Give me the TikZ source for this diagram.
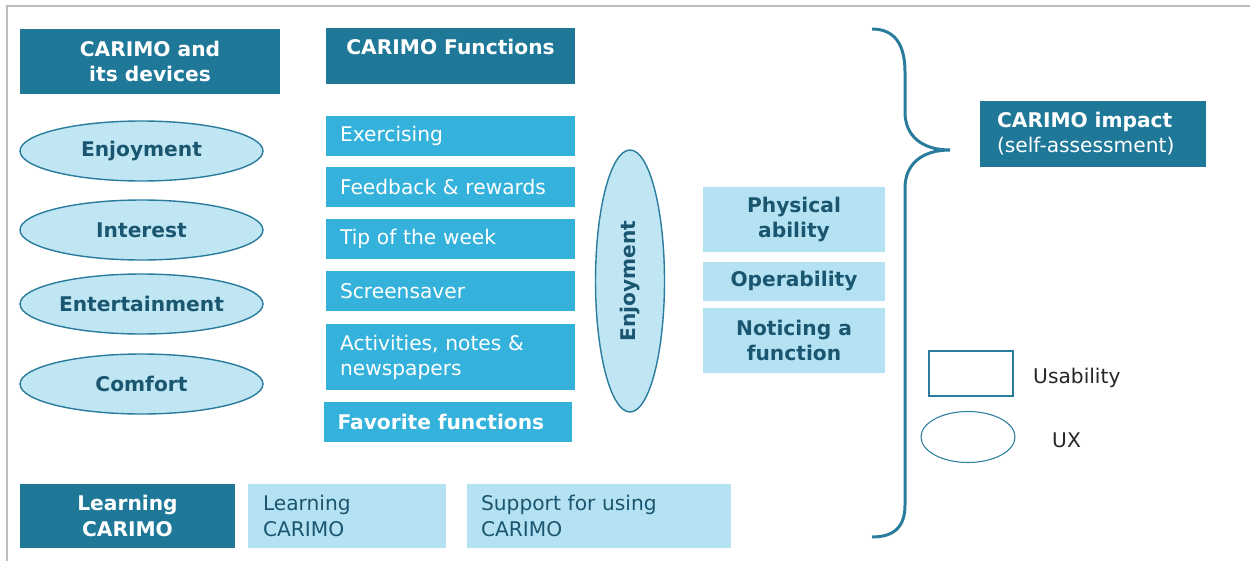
\documentclass[tikz,border=0pt]{standalone}
\usepackage{fontspec}
\setmainfont{DejaVu Sans}
\usetikzlibrary{shapes.geometric}

\definecolor{carDark}{RGB}{31,120,152}
\definecolor{carMid}{RGB}{53,178,220}
\definecolor{carLight}{RGB}{180,226,242}
\definecolor{carOval}{RGB}{192,230,244}
\definecolor{carLine}{RGB}{42,124,156}
\definecolor{carText}{RGB}{26,86,112}
\definecolor{frameGray}{RGB}{190,190,190}

\begin{document}
\begin{tikzpicture}[x=0.02cm,y=-0.02cm,
  font=\fontsize{11.5}{14.3}\selectfont,
  darkbox/.style={fill=carDark,text=white,font=\fontsize{11.5}{14.3}\selectfont\bfseries,
    align=center,inner sep=0pt},
  midbox/.style={fill=carMid,text=white,align=left,inner xsep=0.28cm,inner ysep=0pt,
    text width=4.42cm,minimum height=0.8cm},
  lightbox/.style={fill=carLight,text=carText,font=\fontsize{11.5}{14.3}\selectfont\bfseries,
    align=center,inner sep=0pt,minimum width=3.64cm},
  plainbox/.style={fill=carLight,text=carText,align=left,inner ysep=0pt,
    minimum height=1.28cm},
  oval/.style={ellipse,draw=carLine,line width=0.8pt,fill=carOval,text=carText,
    font=\fontsize{11.5}{14.3}\selectfont\bfseries,inner sep=0pt,
    minimum width=4.86cm,minimum height=1.2cm},
  brace/.style={draw=carLine,line width=1.7pt},
  keytext/.style={anchor=west,text=black!85}]

\useasboundingbox (0,0) rectangle (1250,561);

% frame
\draw[frameGray,line width=1.1pt] (7,561) -- (7,6) -- (1250,6);

% column headers
\node[darkbox,minimum width=5.2cm,minimum height=1.3cm] (devices) at (150,61.5)
  {CARIMO and\\its devices};
\node[darkbox,minimum width=4.98cm,minimum height=1.12cm,text depth=0.36cm] (funchead)
  at (450.5,56) {CARIMO Functions};

% UX ovals
\node[oval] (enjoy) at (141.5,151) {Enjoyment};
\node[oval] (interest) at (141.5,230) {Interest};
\node[oval] (entertain) at (141.5,304) {Entertainment};
\node[oval] (comfort) at (141.5,384) {Comfort};

% functions
\node[midbox] (exercise) at (450.5,136) {Exercising};
\node[midbox] (feedback) at (450.5,187) {Feedback \& rewards};
\node[midbox] (tip) at (450.5,239) {Tip of the week};
\node[midbox] (saver) at (450.5,291) {Screensaver};
\node[midbox,minimum height=1.32cm] (activity) at (450.5,357)
  {Activities, notes \&\\newspapers};
\node[midbox,font=\fontsize{11.5}{14.3}\selectfont\bfseries] (favorite) at (448,422)
  {Favorite functions};

\node[oval,rotate=90,minimum width=5.24cm,minimum height=1.38cm] (enjoyfun)
  at (630,281) {Enjoyment};

% usability
\node[lightbox,minimum height=1.3cm] (physical) at (794,219.5) {Physical\\ability};
\node[lightbox,minimum height=0.78cm] (operable) at (794,281.5) {Operability};
\node[lightbox,minimum height=1.3cm] (notice) at (794,340.5) {Noticing a\\function};

% learning row
\node[darkbox,minimum width=4.3cm,minimum height=1.28cm] (learnhead) at (127.5,516)
  {Learning\\CARIMO};
\node[plainbox,inner xsep=0.3cm,text width=3.36cm] (learn) at (347,516)
  {Learning\\CARIMO};
\node[plainbox,inner xsep=0.28cm,text width=4.72cm] (support) at (599,516)
  {Support for using\\CARIMO};

% brace and impact
\draw[brace] (872,29) .. controls (895,29) and (905,45) .. (905,72) -- (905,112)
  .. controls (905,136) and (922,150) .. (950,150)
  .. controls (922,150) and (905,164) .. (905,188) -- (905,505)
  .. controls (905,526) and (895,537) .. (872,537);
\node[darkbox,align=left,inner xsep=0.34cm,text width=3.84cm,minimum height=1.32cm]
  (impact) at (1093,134) {CARIMO impact\\\mdseries(self-assessment)};

% legend
\node[draw=carLine,line width=0.8pt,fill=white,minimum width=1.68cm,minimum height=0.9cm]
  (keyrect) at (971,373.5) {};
\node[keytext] (keyuse) at (1027,378) {Usability};
\node[ellipse,draw=carLine,line width=0.6pt,minimum width=1.88cm,minimum height=1.02cm]
  (keyoval) at (968,437) {};
\node[keytext] (keyux) at (1046,440) {UX};

\end{tikzpicture}
\end{document}
